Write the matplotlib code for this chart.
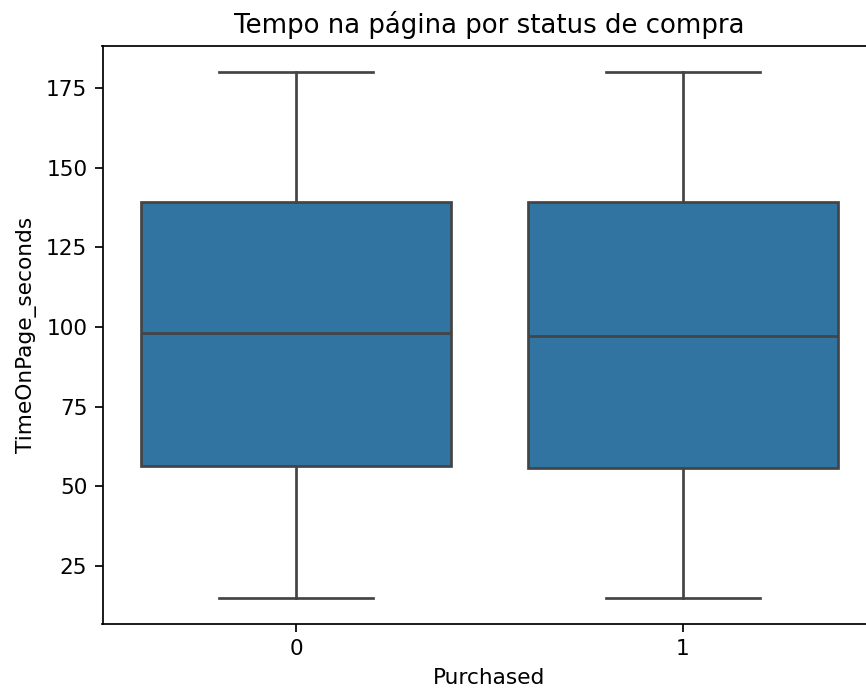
import matplotlib
matplotlib.use("Agg")
import matplotlib.pyplot as plt

categories = ["0", "1"]
whisker_low = [15, 15]
q1 = [56.5, 55.8]
median = [98.1, 97.2]
q3 = [139.2, 139.2]
whisker_high = [180, 180]

title = "Tempo na página por status de compra"
xlabel = "Purchased"
ylabel = "TimeOnPage_seconds"

plt.rcParams['font.family'] = ['DejaVu Sans']
dpi = 156
fig = plt.figure(figsize=(866 / dpi, 693 / dpi), dpi=dpi)
ax = fig.add_axes([102.5 / 866, 69 / 693, 774 / 866, 578 / 693])

stats = []
for i, c in enumerate(categories):
    stats.append(dict(label=c, whislo=whisker_low[i], q1=q1[i], med=median[i],
                      q3=q3[i], whishi=whisker_high[i], fliers=[]))

line_color = "#444444"
lw = 1.25
ax.bxp(stats, positions=range(len(categories)), widths=0.8, capwidths=0.4,
       patch_artist=True, showfliers=False,
       boxprops=dict(facecolor="#3274a1", edgecolor=line_color, linewidth=lw),
       medianprops=dict(color=line_color, linewidth=lw),
       whiskerprops=dict(color=line_color, linewidth=lw),
       capprops=dict(color=line_color, linewidth=lw))

ax.set_xlim(-0.5, 1.5)
ax.set_ylim(6.75, 188.25)
ax.set_yticks([25, 50, 75, 100, 125, 150, 175])
ax.set_xticks(range(len(categories)))
ax.set_xticklabels(categories)
ax.set_title(title, fontsize=12)
ax.set_xlabel(xlabel, fontsize=10)
ax.set_ylabel(ylabel, fontsize=10)

fig.savefig("out.png", dpi=dpi)
